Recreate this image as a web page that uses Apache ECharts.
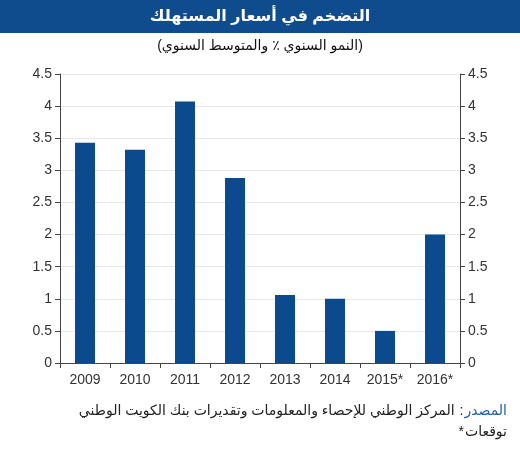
<!DOCTYPE html>
<html><head><meta charset="utf-8">
<script src="https://cdn.jsdelivr.net/npm/echarts@6/dist/echarts.min.js"></script>
<style>html,body{margin:0;padding:0;background:#fff}#c{width:520px;height:450px}</style>
</head><body><div id="c"></div>
<script>
const categories = ['2009','2010','2011','2012','2013','2014','2015*','2016*'];
const inflation = [3.43, 3.32, 4.07, 2.88, 1.06, 1.0, 0.5, 2.0];
const yTicks = { min: 0, max: 4.5, interval: 0.5 };

const titleText = '\u202Aالتضخم في أسعار المستهلك\u202C';
const subtitleText = '\u202A(النمو السنوي ٪ والمتوسط السنوي)\u202C';
const sourceLabel = 'المصدر';
const sourceText = 'المركز الوطني للإحصاء والمعلومات وتقديرات بنك الكويت الوطني';
const noteText = 'توقعات';

const blue = '#0b4a8c';
const font = 'Arial, "Liberation Sans", "DejaVu Sans", sans-serif';
const footFont = '14px ' + font;
const ctx = document.createElement('canvas').getContext('2d');
ctx.font = footFont;
const wLabel = ctx.measureText(sourceLabel).width;
const wColon = ctx.measureText(':').width;
const wNote = ctx.measureText(noteText).width;
const rightEdge = 507;

const chart = echarts.init(document.getElementById('c'));
const yAxisBase = {
  type: 'value', min: yTicks.min, max: yTicks.max, interval: yTicks.interval,
  axisLine: { show: true, lineStyle: { color: '#444', width: 1 } },
  axisTick: { show: true, length: 5, lineStyle: { color: '#444' } },
  axisLabel: { color: '#333', fontSize: 14, fontFamily: font, margin: 8 }
};
chart.setOption({
  animation: false,
  grid: { left: 60, right: 60, top: 74, bottom: 87 },
  xAxis: {
    type: 'category', data: categories,
    axisLine: { lineStyle: { color: '#444' } },
    axisTick: { show: true, length: 5, lineStyle: { color: '#444' } },
    axisLabel: { color: '#333', fontSize: 14, fontFamily: font, margin: 10 }
  },
  yAxis: [
    Object.assign({}, yAxisBase, { position: 'left', splitLine: { show: true, lineStyle: { color: '#e8e8e8' } } }),
    Object.assign({}, yAxisBase, { position: 'right', splitLine: { show: false } })
  ],
  series: [{
    type: 'bar', data: inflation, barWidth: 20,
    itemStyle: { color: blue }
  }],
  graphic: [
    { type: 'rect', left: 0, top: 0, shape: { width: 520, height: 33 }, style: { fill: '#0f4c8d' } },
    { type: 'text', x: 260, y: 17, style: { text: titleText, fill: '#fff', font: 'bold 16px ' + font, textAlign: 'center', textVerticalAlign: 'middle' } },
    { type: 'text', x: 260, y: 46, style: { text: subtitleText, fill: '#111', font: '14px ' + font, textAlign: 'center', textVerticalAlign: 'middle' } },
    { type: 'text', x: rightEdge, y: 411, style: { text: sourceLabel, fill: '#1f5fa8', font: footFont, textAlign: 'right', textVerticalAlign: 'middle' } },
    { type: 'text', x: rightEdge - wLabel - 1, y: 411, style: { text: ':', fill: '#222', font: footFont, textAlign: 'right', textVerticalAlign: 'middle' } },
    { type: 'text', x: rightEdge - wLabel - wColon - 6, y: 411, style: { text: sourceText, fill: '#222', font: footFont, textAlign: 'right', textVerticalAlign: 'middle' } },
    { type: 'text', x: rightEdge, y: 432, style: { text: noteText, fill: '#222', font: footFont, textAlign: 'right', textVerticalAlign: 'middle' } },
    { type: 'text', x: rightEdge - wNote - 1, y: 432, style: { text: '*', fill: '#222', font: footFont, textAlign: 'right', textVerticalAlign: 'middle' } }
  ]
});
</script></body></html>
